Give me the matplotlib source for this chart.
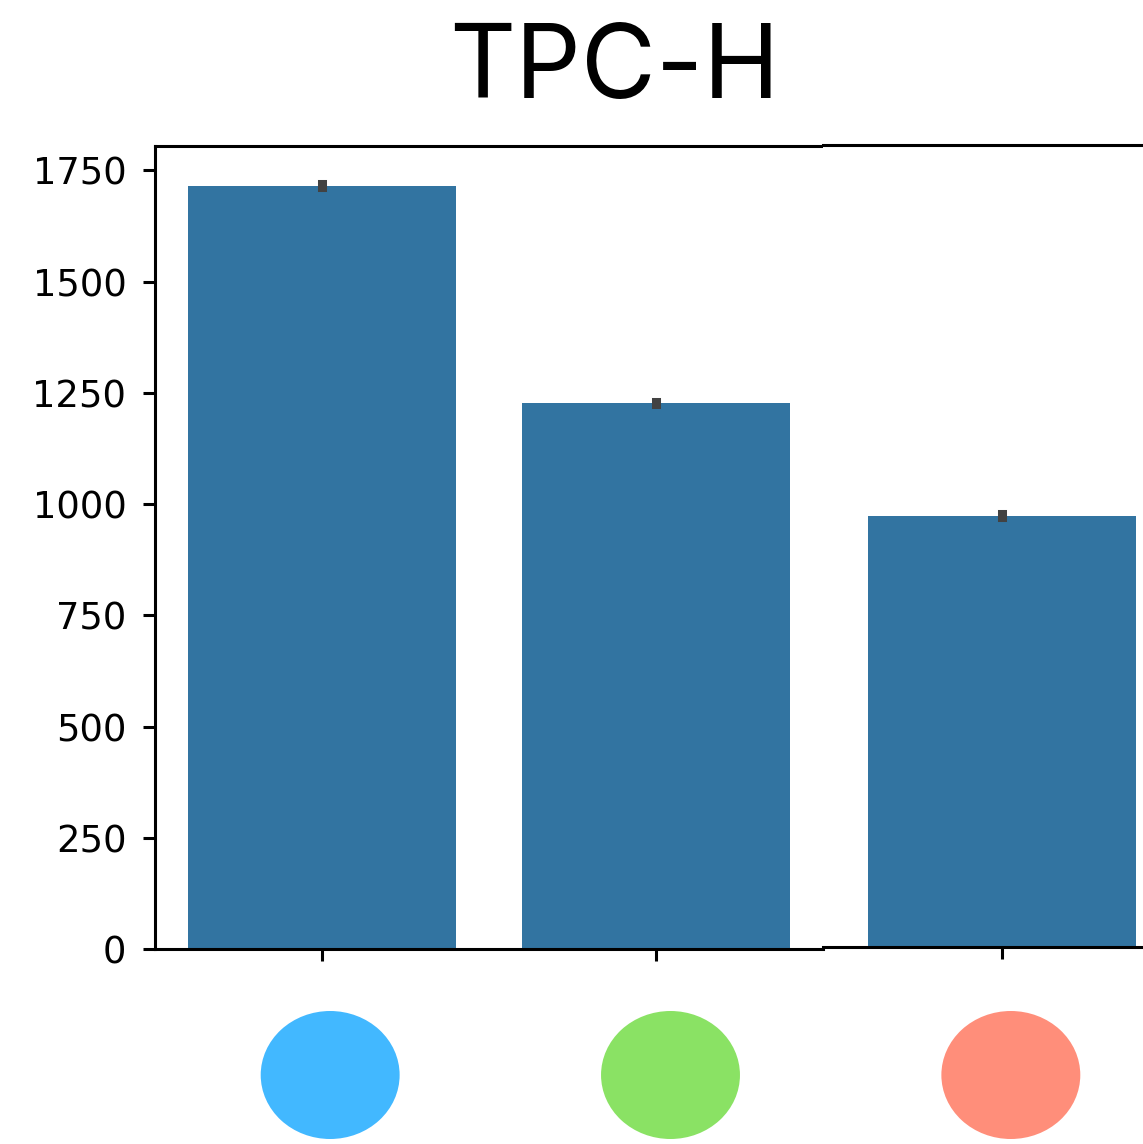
import matplotlib
matplotlib.use("Agg")
import matplotlib.pyplot as plt
from matplotlib.patches import Ellipse

# data
systems = ["sys_a", "sys_b", "sys_c"]
runtimes = [1716, 1227, 971]
errors = [3, 3, 3]
marker_colors = ["#42b8ff", "#8ae264", "#ff8e7a"]
yticks = [0, 250, 500, 750, 1000, 1250, 1500, 1750]

W, H = 1143, 1144
bar_color = "#3274a1"
err_color = "#424242"
unit = 334.0  # px per category


def fx(px):
    return px / W


def fy(px):
    return 1 - px / H


def style(ax):
    ax.tick_params(axis="both", length=8.6, width=2.2, labelsize=26.6, pad=12)
    for s in ax.spines.values():
        s.set_linewidth(2.2)
    ax.spines["right"].set_visible(False)


def draw_bars(ax):
    x = list(range(len(systems)))
    ax.bar(x, runtimes, width=0.8, color=bar_color, zorder=1)
    ax.vlines(x, [r - e for r, e in zip(runtimes, errors)],
              [r + e for r, e in zip(runtimes, errors)],
              color=err_color, linewidth=6.5, capstyle="projecting", zorder=2)
    ax.set_ylim(0, 1805)
    ax.set_xticks(x)
    ax.set_xticklabels([])


fig = plt.figure(figsize=(W / 100, H / 100), dpi=100)

# left part
x0 = 322  # px position of first bar centre
ax1 = fig.add_axes([fx(155), fy(949), fx(823 - 155), (949 - 146) / H])
draw_bars(ax1)
ax1.set_xlim((155 - x0) / unit, (823 - x0) / unit)
ax1.set_yticks(yticks)
style(ax1)

# right part (slightly shifted in the reference)
shift = 12
ax2 = fig.add_axes([fx(823), fy(947), fx(1143 - 823), (947 - 145) / H])
draw_bars(ax2)
ax2.set_xlim((823 - shift - x0) / unit, (1143 - shift - x0) / unit)
ax2.set_yticks([])
style(ax2)
ax2.spines["left"].set_visible(False)

# coloured markers under the bars
axm = fig.add_axes([fx(160), fy(1139), fx(1181 - 160), (1139 - 1011) / H])
axm.set_xlim(-0.5, 2.5)
axm.set_ylim(0, 1)
axm.axis("off")
for i, c in enumerate(marker_colors):
    axm.add_patch(Ellipse((i, 0.5), 139 / 340.5, 1.0, color=c, lw=0))

fig.text(fx(614), fy(98), "TPC-H", family=["Inter", "DejaVu Sans"],
         fontsize=74, ha="center", va="baseline")

fig.savefig("out.png", dpi=100)
